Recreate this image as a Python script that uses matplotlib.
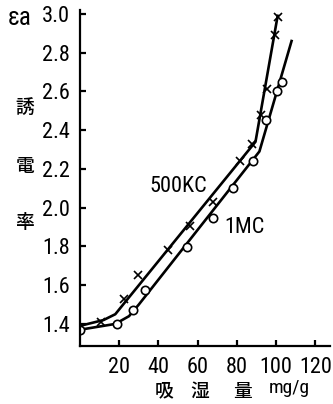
import numpy as np
import matplotlib
matplotlib.use("Agg")
import matplotlib.pyplot as plt

# 500KC (x markers)
x_500 = [0, 10.6, 22.6, 29.7, 44.7, 56, 68, 81.7, 87.5, 92.4, 95.3, 99.6, 100.8]
y_500 = [1.38, 1.41, 1.53, 1.65, 1.78, 1.905, 2.03, 2.24, 2.33, 2.476, 2.61, 2.89, 2.985]
# 500KC drawn line
lx_500 = [0, 12, 18, 22, 89.5, 100.8]
ly_500 = [1.39, 1.42, 1.45, 1.50, 2.34, 2.99]

# 1MC (o markers)
x_1m = [0, 19, 27, 33.3, 54.5, 67.6, 77.8, 88.4, 95, 100.5, 102.8]
y_1m = [1.37, 1.40, 1.47, 1.577, 1.796, 1.946, 2.10, 2.24, 2.45, 2.60, 2.65]
# 1MC drawn line
lx_1m = [0, 18, 25, 30, 91.5, 107.9]
ly_1m = [1.37, 1.40, 1.44, 1.50, 2.29, 2.86]

xticks = [20, 40, 60, 80, 100, 120]
yticks = [1.4, 1.6, 1.8, 2.0, 2.2, 2.4, 2.6, 2.8, 3.0]

num_font = ['Roboto Condensed', 'DejaVu Sans']
cjk_font = ['Noto Sans CJK JP', 'DejaVu Sans']
nf = dict(family=num_font)

fig = plt.figure(figsize=(3.33, 4.04), dpi=100)
ax = fig.add_axes([80/333, 1-346/404, 250/333, 336/404])

ax.plot(lx_500, ly_500, color='black', lw=1.9)
ax.plot(lx_1m, ly_1m, color='black', lw=1.9)
ax.plot(x_500, y_500, ls='none', marker='x', ms=6, mew=1.2, color='black')
ax.plot(x_1m, y_1m, ls='none', marker='o', ms=6, mew=1.2, mfc='white', mec='black')

ax.set_xlim(0, 127.5)
ax.set_ylim(1.286, 3.02)
ax.spines['top'].set_visible(False)
ax.spines['right'].set_visible(False)
ax.spines['left'].set_linewidth(1.6)
ax.spines['bottom'].set_linewidth(1.6)

ax.set_xticks(xticks)
ax.set_yticks(yticks)
ax.set_xticklabels([str(v) for v in xticks], fontsize=16, **nf)
ax.set_yticklabels([f"{v:.1f}" for v in yticks], fontsize=16, **nf)
ax.tick_params(direction='in', length=4, width=1.6)
ax.tick_params(axis='x', pad=8)
ax.tick_params(axis='y', pad=7)

fig.text(20/333, 1-18/404, "εa", fontsize=18, ha='center', va='center', **nf)
for ch, py in zip(["誘", "電", "率"], [107, 167, 222]):
    fig.text(25/333, 1-py/404, ch, family=cjk_font, fontsize=13.5, weight='medium',
             ha='center', va='center')
for ch, px in zip(["吸", "湿", "量"], [164, 200, 242]):
    fig.text(px/333, 1-391/404, ch, family=cjk_font, fontsize=13.5, weight='medium',
             ha='center', va='center')
fig.text(289/333, 1-388/404, "mg/g", fontsize=14, ha='center', va='center', **nf)

ax.text(178/333, 1-187/404, "500KC", transform=fig.transFigure,
        fontsize=16, ha='center', va='center', **nf)
ax.text(245/333, 1-228/404, "1MC", transform=fig.transFigure,
        fontsize=16, ha='center', va='center', **nf)

fig.savefig("out.png", dpi=100)
